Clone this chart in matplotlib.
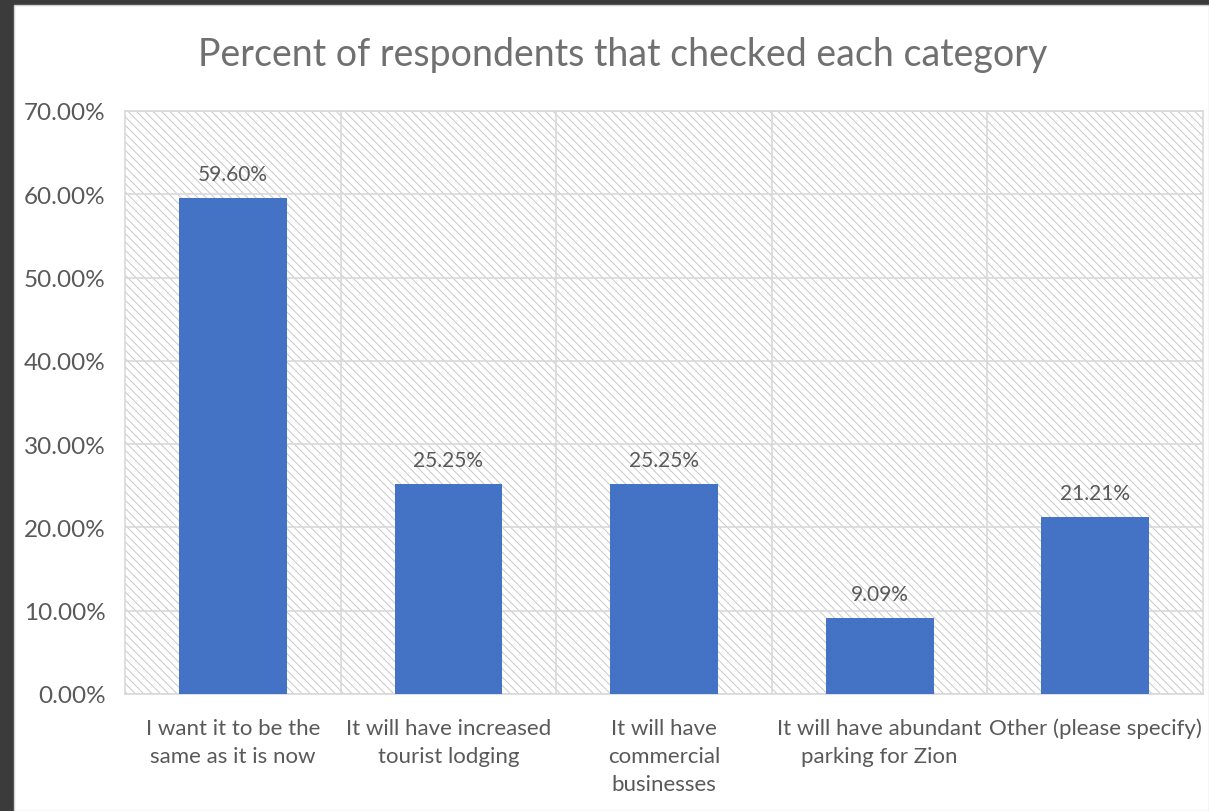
import matplotlib

matplotlib.use("Agg")
import matplotlib.pyplot as plt
from matplotlib.patches import Rectangle
from matplotlib.ticker import FuncFormatter, MultipleLocator

categories = [
    "I want it to be the\nsame as it is now",
    "It will have increased\ntourist lodging",
    "It will have\ncommercial\nbusinesses",
    "It will have abundant\nparking for Zion",
    "Other (please specify)",
]
percents = [59.60, 25.25, 25.25, 9.09, 21.21]

TEXT = "#595959"
BAR = "#4472C4"
GRID = "#D9D9D9"

plt.rcParams["font.family"] = ["Lato", "DejaVu Sans"]
plt.rcParams["hatch.color"] = "#C8C8C8"
plt.rcParams["hatch.linewidth"] = 0.7

W, H = 1209, 812
fig = plt.figure(figsize=(W / 100, H / 100), dpi=100)
fig.patch.set_facecolor("#3b3b3b")
fig.add_artist(Rectangle((14 / W, 0), 1 - 14 / W, 1 - 6 / H,
                         transform=fig.transFigure, facecolor="white",
                         edgecolor="#cfcfcf", lw=1, zorder=-10))

ax = fig.add_axes([125 / W, 1 - 695 / H, (1203 - 125) / W, (695 - 112) / H])
ax.set_facecolor("white")
ax.add_patch(Rectangle((0, 0), 1, 1, transform=ax.transAxes, facecolor="white",
                       edgecolor="#C8C8C8", hatch="\\\\\\\\", lw=0, zorder=0))

x = list(range(len(categories)))
bars = ax.bar(x, percents, width=0.5, color=BAR, zorder=3)
for b, v in zip(bars, percents):
    ax.annotate(f"{v:.2f}%", (b.get_x() + b.get_width() / 2, v),
                xytext=(0, 10), textcoords="offset points", ha="center",
                va="bottom", fontsize=15, color=TEXT)

ax.set_xlim(-0.5, len(categories) - 0.5)
ax.set_ylim(0, 70)
ax.yaxis.set_major_locator(MultipleLocator(10))
ax.yaxis.set_major_formatter(FuncFormatter(lambda v, _: f"{v:.2f}%"))
ax.set_xticks(x)
ax.set_xticklabels(categories, fontsize=16, color=TEXT, linespacing=1.5)
ax.set_xticks([i + 0.5 for i in x[:-1]], minor=True)
ax.tick_params(axis="y", length=0, pad=14, labelsize=17.5, labelcolor=TEXT)
ax.tick_params(axis="x", which="both", length=0, pad=17)
ax.grid(axis="y", color=GRID, lw=1.2, zorder=1)
ax.grid(axis="x", which="minor", color=GRID, lw=1.2, zorder=1)
ax.grid(axis="x", which="major", visible=False)
for s in ax.spines.values():
    s.set_color(GRID)
    s.set_linewidth(1.2)

fig.text(623 / W, 1 - 55 / H, "Percent of respondents that checked each category",
         ha="center", va="center", fontsize=27, color="#707070")

fig.savefig("out.png", dpi=100, facecolor=fig.get_facecolor())
